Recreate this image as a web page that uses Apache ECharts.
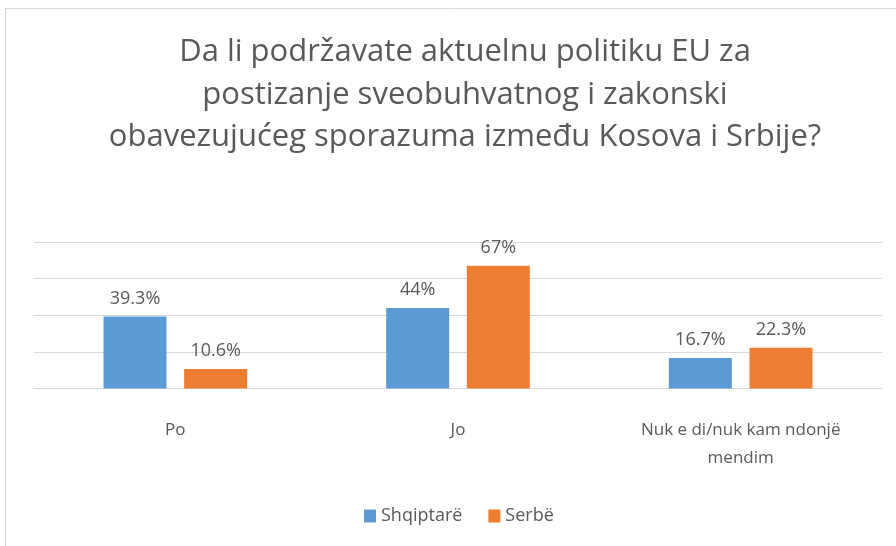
<!DOCTYPE html>
<html><head><meta charset="utf-8">
<script src="https://cdn.jsdelivr.net/npm/echarts@6/dist/echarts.min.js"></script>
<style>html,body{margin:0;padding:0;background:#fff}#c{width:896px;height:546px}</style>
</head><body><div id="c"></div>
<script>
const categories = ['Po', 'Jo', 'Nuk e di/nuk kam ndonjë\nmendim'];
const seriesNames = ['Shqiptarë', 'Serbë'];
const shqiptare = [39.3, 44, 16.7];
const serbe = [10.6, 67, 22.3];
const titleText = 'Da li podržavate aktuelnu politiku EU za\npostizanje sveobuhvatnog i zakonski\nobavezujućeg sporazuma između Kosova i Srbije?';

const font = '"Open Sans", "Liberation Sans", sans-serif';
const chart = echarts.init(document.getElementById('c'));
const lbl = {show: true, position: 'top', distance: 9, color: '#595959', fontSize: 18, fontFamily: font,
  formatter: p => p.value + '%'};
chart.setOption({
  animation: false,
  graphic: [{type: 'rect', shape: {x: 5.5, y: 8.5, width: 900, height: 560}, style: {fill: 'none', stroke: '#d9d9d9', lineWidth: 1}}],
  title: {text: titleText, left: 460, textAlign: 'center', top: 26,
    textStyle: {color: '#595959', fontSize: 31, fontWeight: 'normal', fontFamily: font, lineHeight: 42.5}},
  grid: {left: 34, right: 14, top: 242, bottom: 546 - 388.5},
  xAxis: {type: 'category', data: categories,
    axisLine: {show: false}, axisTick: {show: false},
    axisLabel: {color: '#595959', fontSize: 17, fontFamily: font, margin: 28, lineHeight: 28}},
  yAxis: {type: 'value', min: 0, max: 80, interval: 20,
    axisLabel: {show: false}, axisLine: {show: false}, axisTick: {show: false},
    splitLine: {lineStyle: {color: '#d9d9d9', width: 1}}},
  legend: {data: seriesNames, bottom: 16, left: 359, itemWidth: 12, itemHeight: 13, itemGap: 26,
    icon: 'rect', textStyle: {color: '#595959', fontSize: 18, fontFamily: font}},
  series: [
    {name: seriesNames[0], type: 'bar', data: shqiptare, barWidth: 63, barGap: '28%', itemStyle: {color: '#5B9BD5'}, label: lbl},
    {name: seriesNames[1], type: 'bar', data: serbe, barWidth: 63, barGap: '28%', itemStyle: {color: '#ED7D31'}, label: lbl}
  ]
});
</script></body></html>
